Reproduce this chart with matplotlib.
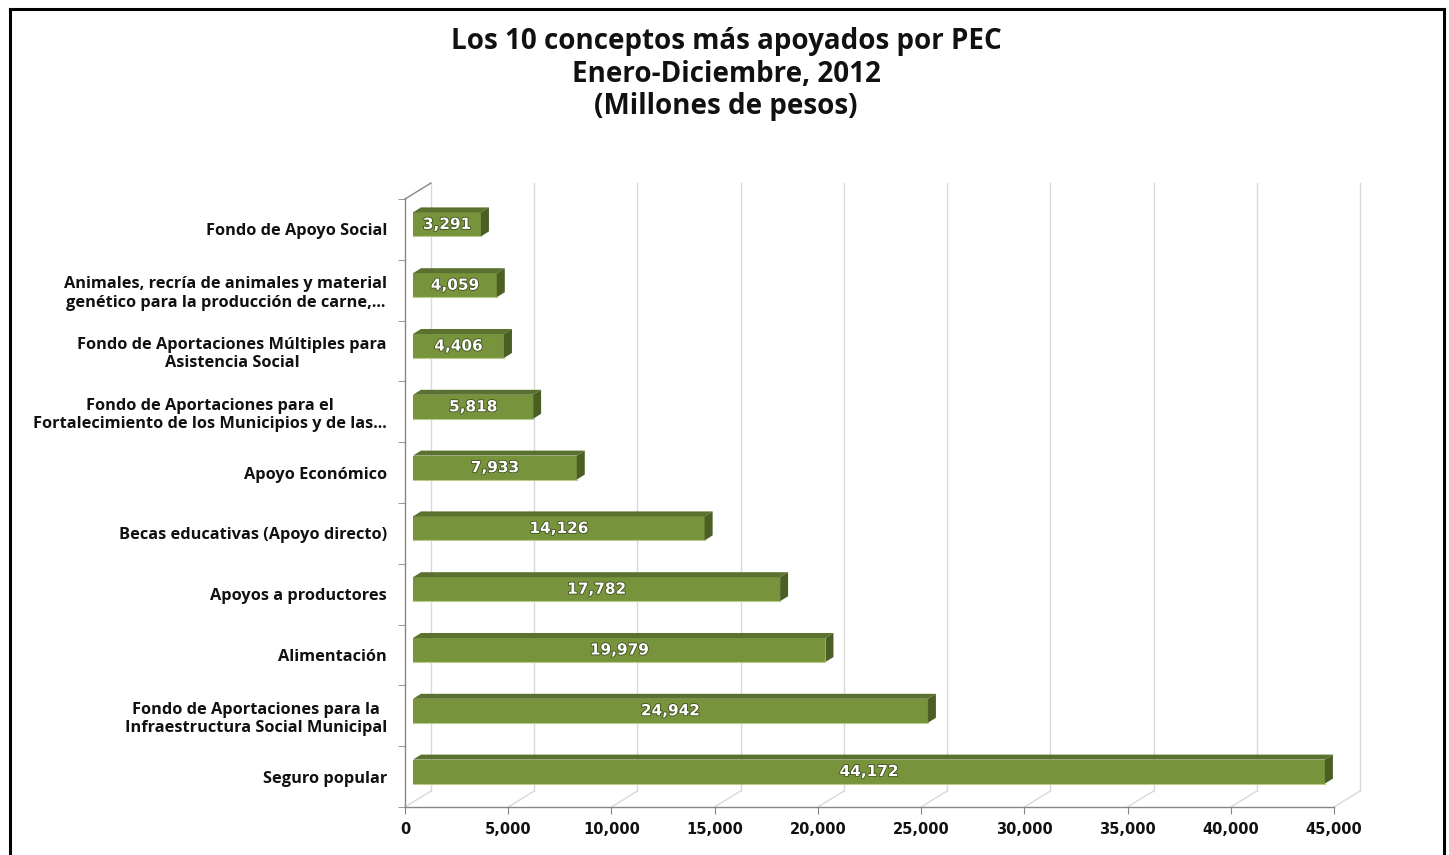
import numpy as np
import matplotlib.pyplot as plt
from matplotlib.patches import Polygon
from matplotlib.lines import Line2D
import matplotlib.patheffects as pe

# datos (de arriba hacia abajo)
categorias = [
    "Fondo de Apoyo Social",
    "Animales, recría de animales y material\ngenético para la producción de carne,...",
    "Fondo de Aportaciones Múltiples para\nAsistencia Social",
    "Fondo de Aportaciones para el\nFortalecimiento de los Municipios y de las...",
    "Apoyo Económico",
    "Becas educativas (Apoyo directo)",
    "Apoyos a productores",
    "Alimentación",
    "Fondo de Aportaciones para la\nInfraestructura Social Municipal",
    "Seguro popular",
]
valores = [3291, 4059, 4406, 5818, 7933, 14126, 17782, 19979, 24942, 44172]
x_ticks = [0, 5000, 10000, 15000, 20000, 25000, 30000, 35000, 40000, 45000]
titulo = "Los 10 conceptos más apoyados por PEC\nEnero-Diciembre, 2012\n(Millones de pesos)"

W, H, DPI = 1449, 855, 100
fig = plt.figure(figsize=(W / DPI, H / DPI), dpi=DPI)

# plano frontal del grafico en pixeles
ax_l, ax_r, ax_t, ax_b = 405, 1334, 199, 807
ax = fig.add_axes([ax_l / W, 1 - ax_b / H, (ax_r - ax_l) / W, (ax_b - ax_t) / H])
n = len(valores)
y = np.arange(n)
xmax = x_ticks[-1]
ax.set_xlim(0, xmax)
ax.set_ylim(n - 0.5, -0.5)

# conversion pixel -> datos (y invertida: arriba = negativo)
ux = xmax / (ax_r - ax_l)
uy = n / (ax_b - ax_t)
back_dx, back_dy = 26 * ux, -16 * uy
front_dx, front_dy = 8 * ux, -5 * uy
depth_dx, depth_dy = 8 * ux, -5 * uy

grid_c = "#D9D9D9"
axis_c = "#868686"
y0, y1 = n - 0.5, -0.5

# pared de fondo y piso
for t in x_ticks:
    ax.add_line(Line2D([t + back_dx] * 2, [y0 + back_dy, y1 + back_dy],
                       color=grid_c, lw=1, clip_on=False, zorder=0))
    ax.add_line(Line2D([t, t + back_dx], [y0, y0 + back_dy],
                       color=grid_c, lw=1, clip_on=False, zorder=0))
ax.add_line(Line2D([0, back_dx], [y1, y1 + back_dy], color=axis_c, lw=1,
                   clip_on=False, zorder=1))

# barras 3D
front_c, top_c, side_c = "#77933C", "#5B7130", "#4B5F25"
hb = 0.395
ax.barh(y + front_dy, valores, height=hb, left=front_dx, color=front_c,
        edgecolor="none", zorder=3)
for yi, v in zip(y, valores):
    top = yi + front_dy - hb / 2
    bot = yi + front_dy + hb / 2
    xl, xr = front_dx, front_dx + v
    ax.add_patch(Polygon([(xl, top), (xr, top), (xr + depth_dx, top + depth_dy),
                          (xl + depth_dx, top + depth_dy)],
                         closed=True, facecolor=top_c, edgecolor="none", zorder=3))
    ax.add_patch(Polygon([(xr, top), (xr, bot), (xr + depth_dx, bot + depth_dy),
                          (xr + depth_dx, top + depth_dy)],
                         closed=True, facecolor=side_c, edgecolor="none", zorder=3))
    ax.add_line(Line2D([xl, xr], [bot, bot], color="#B9CC8C", lw=0.8, zorder=4))
    ax.text(xl + v / 2, yi + front_dy, f"{v:,}", ha="center", va="center",
            color="white", fontsize=11, fontweight="bold", family="DejaVu Sans",
            zorder=5,
            path_effects=[pe.withStroke(linewidth=1.2, foreground="#3F4F1E")])

# ejes
for s in ["top", "right"]:
    ax.spines[s].set_visible(False)
for s in ["left", "bottom"]:
    ax.spines[s].set_color(axis_c)
    ax.spines[s].set_linewidth(1)
ax.set_xticks(x_ticks)
ax.set_xticklabels([f"{t:,}" for t in x_ticks], fontsize=10.5, fontweight="bold",
                   family="DejaVu Sans", color="#111111")
ax.tick_params(axis="x", length=5, color=axis_c, pad=6)
ax.set_yticks(y)
ax.set_yticklabels(categorias, fontsize=11.8, fontweight="bold", family="Open Sans",
                   color="#111111", linespacing=1.2)
for lab in ax.get_yticklabels():
    lab.set_multialignment("center")
ax.set_yticks(np.arange(n + 1) - 0.5, minor=True)
ax.tick_params(axis="y", which="major", length=0, pad=13)
ax.tick_params(axis="y", which="minor", length=5, color=axis_c)
ax.set_facecolor("none")

# titulo
fig.text(726 / W, 1 - 74 / H, titulo, ha="center", va="center", fontsize=20,
         fontweight="bold", family="Open Sans", color="#111111", linespacing=1.17)

# marco
for xs, ys in [([9.5, 9.5], [H + 5, 9.5]), ([9.5, 1444], [9.5, 9.5]),
               ([1444, 1444], [9.5, H + 5])]:
    fig.add_artist(Line2D([x / W for x in xs], [1 - yy / H for yy in ys],
                          transform=fig.transFigure, color="black", lw=2.2))

fig.savefig("out.png", dpi=DPI)
